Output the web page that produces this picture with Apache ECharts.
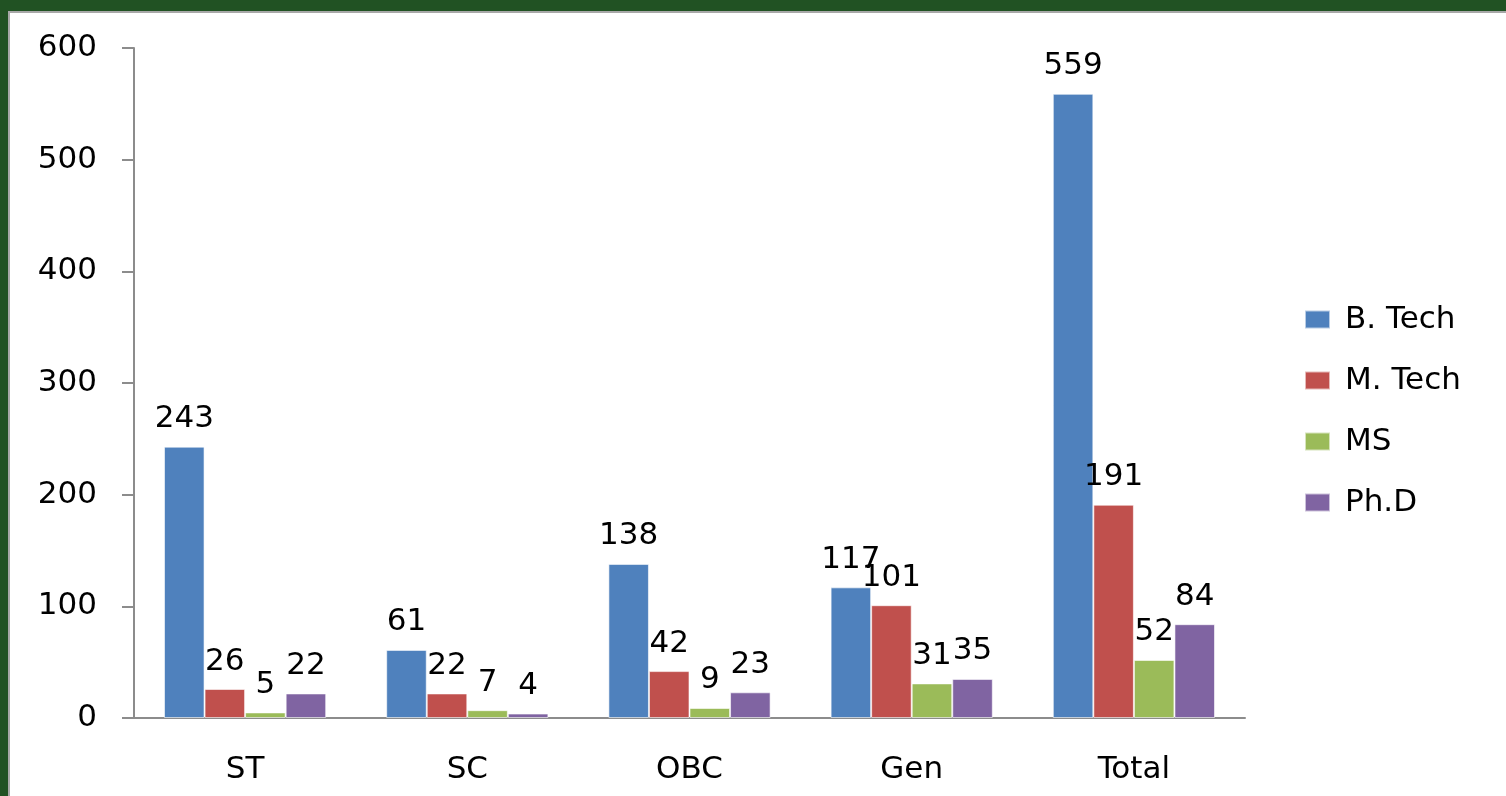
<!DOCTYPE html>
<html>
<head>
<meta charset="utf-8">
<script src="https://cdn.jsdelivr.net/npm/echarts@6/dist/echarts.min.js"></script>
<style>
  html, body { margin: 0; padding: 0; width: 1506px; height: 796px; overflow: hidden; background: #215223; }
  #frame { position: absolute; left: 8px; top: 11px; width: 1498px; height: 785px; border-top: 2px solid #a8a8a8; border-left: 2px solid #a8a8a8; background: #fff; }
  #chart { position: absolute; left: 0; top: 0; width: 1498px; height: 785px; }
</style>
</head>
<body>
<div id="frame"><div id="chart"></div></div>
<script>
const categories = ['ST', 'SC', 'OBC', 'Gen', 'Total'];
const seriesNames = ['B. Tech', 'M. Tech', 'MS', 'Ph.D'];
const bTech = [243, 61, 138, 117, 559];
const mTech = [26, 22, 42, 101, 191];
const ms = [5, 7, 9, 31, 52];
const phd = [22, 4, 23, 35, 84];
const colors = ['#4F81BD', '#C0504D', '#9BBB59', '#8064A2'];

const values = [bTech, mTech, ms, phd];
const font = 'DejaVu Sans';
const fs = 31;
const chart = echarts.init(document.getElementById('chart'));
chart.setOption({
  animation: false,
  color: colors,
  textStyle: { fontFamily: font },
  grid: { left: 124, top: 35, right: 263, bottom: 80 },
  legend: {
    orient: 'vertical',
    left: 1289,
    top: 286,
    itemWidth: 25,
    itemHeight: 18,
    itemGap: 30,
    icon: 'rect',
    textStyle: { fontFamily: font, fontSize: fs, color: '#000', padding: [0, 0, 0, 10] },
    data: seriesNames
  },
  xAxis: {
    type: 'category',
    data: categories,
    axisLine: { lineStyle: { color: '#8c8c8c', width: 2 } },
    axisTick: { length: 10, lineStyle: { color: '#8c8c8c', width: 2 } },
    axisLabel: { fontFamily: font, fontSize: fs, color: '#000', margin: 36 }
  },
  yAxis: {
    type: 'value',
    min: 0, max: 600, interval: 100,
    splitLine: { show: false },
    axisLine: { show: true, lineStyle: { color: '#8c8c8c', width: 2 } },
    axisTick: { show: true, length: 12, lineStyle: { color: '#8c8c8c', width: 2 } },
    axisLabel: { fontFamily: font, fontSize: fs, color: '#000', margin: 37, padding: [4, 0, 0, 0] }
  },
  series: seriesNames.map((n, i) => ({
    name: n,
    type: 'bar',
    data: values[i],
    barGap: '0%',
    barCategoryGap: '27%',
    itemStyle: { color: colors[i], borderColor: 'rgba(255,255,255,0.6)', borderWidth: 1 },
    label: { show: true, position: 'top', distance: 12, fontFamily: font, fontSize: fs, color: '#000' }
  }))
});
</script>
</body>
</html>
